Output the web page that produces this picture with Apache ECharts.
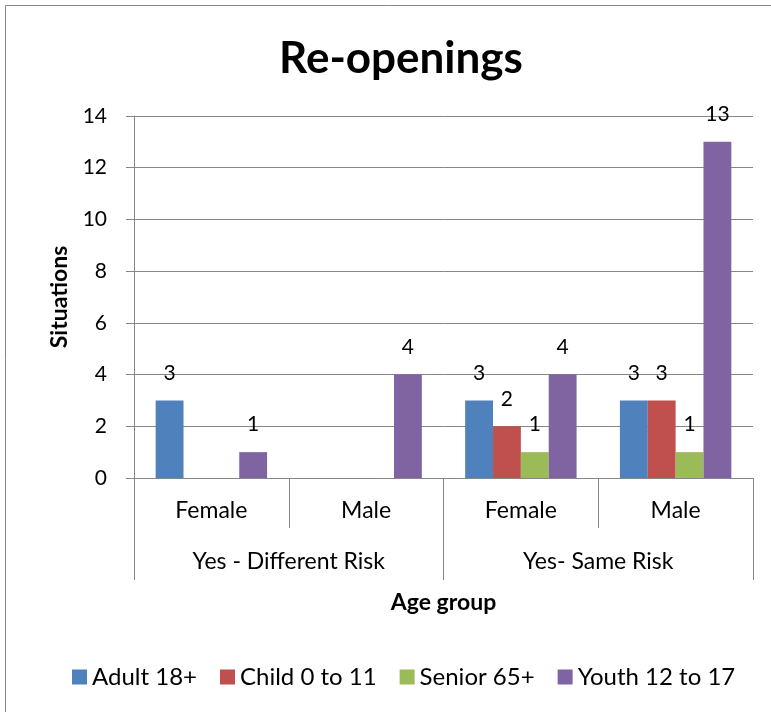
<!DOCTYPE html>
<html>
<head>
<meta charset="utf-8">
<title>Re-openings</title>
<script src="https://cdn.jsdelivr.net/npm/echarts@6/dist/echarts.min.js"></script>
<style>
  html, body { margin: 0; padding: 0; background: #fff; }
  #chart { width: 771px; height: 712px; }
</style>
</head>
<body>
<div id="chart"></div>
<script>
// categories (inner level = gender, outer level = risk)
const genders = ["Female", "Male", "Female", "Male"];
const riskGroups = ["Yes - Different Risk", "Yes- Same Risk"];

// series values, null = no bar
const adult = [3, null, 3, 3];
const child = [null, null, 2, 3];
const senior = [null, null, 1, 1];
const youth = [1, 4, 4, 13];

const seriesNames = ["Adult 18+", "Child 0 to 11", "Senior 65+", "Youth 12 to 17"];
const colors = ["#4F81BD", "#C0504D", "#9BBB59", "#8064A2"];

const font = "Lato, 'Open Sans', sans-serif";
const gray = "#868686";

const chart = echarts.init(document.getElementById("chart"));

function bar(name, data, color) {
  return {
    name: name,
    type: "bar",
    data: data,
    xAxisIndex: 0,
    barGap: "0%",
    barCategoryGap: "28%",
    itemStyle: { color: color },
    label: {
      show: true,
      position: "top",
      distance: 17,
      color: "#000",
      fontFamily: font,
      fontSize: 21
    }
  };
}

const option = {
  animation: false,
  backgroundColor: "#fff",
  color: colors,
  title: {
    text: "Re-openings",
    left: 396,
    top: 32,
    textAlign: "center",
    textStyle: { fontFamily: font, fontSize: 44, fontWeight: "bold", color: "#000" }
  },
  graphic: [
    {
      type: "rect",
      shape: { x: 5.5, y: 5.5, width: 900, height: 900 },
      style: { fill: "none", stroke: gray, lineWidth: 1 },
      silent: true
    }
  ],
  legend: {
    top: 660,
    left: 67,
    itemWidth: 15,
    itemHeight: 15,
    itemGap: 23,
    icon: "rect",
    textStyle: { fontFamily: font, fontSize: 24, color: "#000" },
    data: seriesNames
  },
  grid: { left: 134, right: 18, top: 116, bottom: 234, containLabel: false },
  xAxis: [
    {
      type: "category",
      data: genders,
      position: "bottom",
      axisLine: { show: true, lineStyle: { color: gray, width: 1 } },
      axisTick: { show: true, length: 50, interval: 0, lineStyle: { color: gray } },
      axisLabel: { margin: 21, interval: 0, fontFamily: font, fontSize: 23, color: "#000" },
      splitLine: { show: false }
    },
    {
      type: "category",
      data: riskGroups,
      position: "bottom",
      axisLine: { show: false },
      axisTick: { show: true, length: 102, interval: 0, lineStyle: { color: gray } },
      axisLabel: { margin: 72, interval: 0, fontFamily: font, fontSize: 23, color: "#000" },
      splitLine: { show: false },
      name: "Age group",
      nameLocation: "middle",
      nameGap: 113,
      nameTextStyle: { fontFamily: font, fontSize: 23, fontWeight: "bold", color: "#000" }
    }
  ],
  yAxis: {
    type: "value",
    min: 0,
    max: 14,
    interval: 2,
    name: "Situations",
    nameLocation: "middle",
    nameRotate: 90,
    nameGap: 63,
    nameTextStyle: { fontFamily: font, fontSize: 23, fontWeight: "bold", color: "#000" },
    axisLine: { show: true, lineStyle: { color: gray, width: 1 } },
    axisTick: { show: true, length: 8, lineStyle: { color: gray } },
    axisLabel: { margin: 27, fontFamily: font, fontSize: 21, color: "#000" },
    splitLine: { show: true, lineStyle: { color: gray, width: 1 } }
  },
  series: [
    bar(seriesNames[0], adult, colors[0]),
    bar(seriesNames[1], child, colors[1]),
    bar(seriesNames[2], senior, colors[2]),
    bar(seriesNames[3], youth, colors[3])
  ]
};

chart.setOption(option);
</script>
</body>
</html>
